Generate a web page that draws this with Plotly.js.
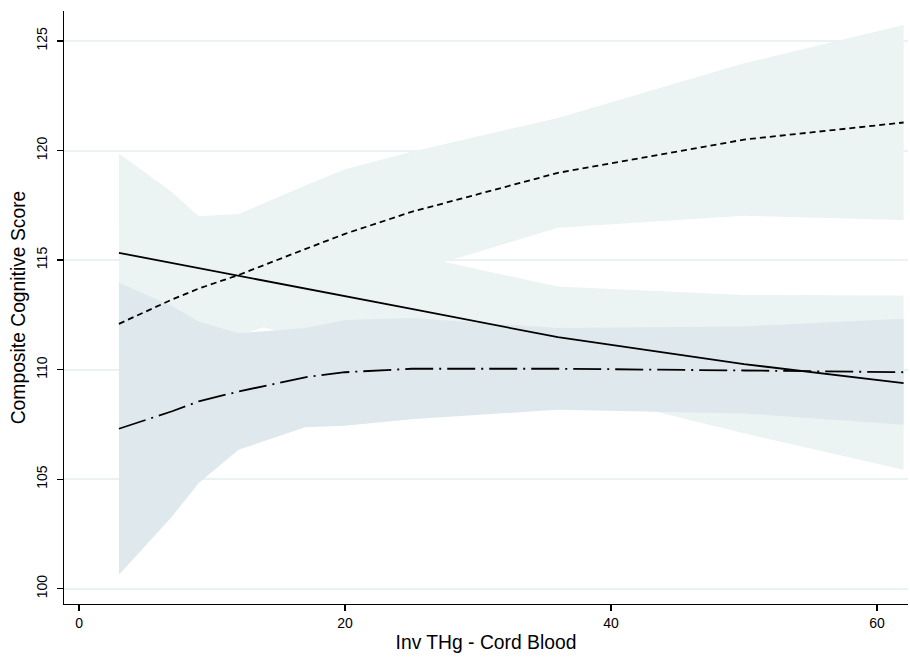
<!DOCTYPE html>
<html>
<head>
<meta charset="utf-8">
<script src="https://cdn.plot.ly/plotly-3.0.1.min.js"></script>
<style>html,body{margin:0;padding:0;background:#fff;}#chart{width:910px;height:657px;}</style>
</head>
<body>
<div id="chart"></div>
<script>
// Inv THg - Cord Blood values at which predictions are drawn
const xVals = [3, 7, 9, 12, 17, 20, 25, 36, 50, 62];

// Solid line with its confidence band
const solidFit = [115.33, 114.87, 114.63, 114.28, 113.70, 113.35, 112.77, 111.48, 110.25, 109.38];
const solidLo  = [110.80, 111.60, 112.26, 112.26, 111.40, 110.85, 110.30, 109.17, 107.09, 105.43];
const solidHi  = [119.86, 118.10, 117.00, 116.30, 116.00, 115.85, 115.24, 113.79, 113.41, 113.38];

// Short-dash line with its confidence band
const dashFit = [112.09, 113.20, 113.70, 114.32, 115.50, 116.20, 117.20, 118.98, 120.50, 121.28];
const dashLo  = [107.58, 109.50, 110.40, 111.54, 112.60, 113.25, 114.45, 116.48, 117.02, 116.83];
const dashHi  = [116.60, 116.90, 117.00, 117.10, 118.40, 119.15, 119.95, 121.48, 123.98, 125.73];

// Dash-dot line with its confidence band
const dashDotFit = [107.30, 108.10, 108.55, 109.00, 109.65, 109.88, 110.04, 110.04, 109.96, 109.88];
const dashDotLo  = [100.64, 103.30, 104.82, 106.34, 107.37, 107.44, 107.73, 108.17, 108.00, 107.48];
const dashDotHi  = [113.96, 112.90, 112.20, 111.66, 111.90, 112.27, 112.35, 111.90, 111.97, 112.32];

const xTicks = [0, 20, 40, 60];
const yTicks = [100, 105, 110, 115, 120, 125];

const lightFill = '#ecf3f3';
const darkFill = '#dfe8ec';

function band(lo, hi, color) {
  return [
    {x: xVals, y: lo, type: 'scatter', mode: 'lines', line: {width: 0, color: color}, hoverinfo: 'skip', showlegend: false},
    {x: xVals, y: hi, type: 'scatter', mode: 'lines', line: {width: 0, color: color}, fill: 'tonexty', fillcolor: color, hoverinfo: 'skip', showlegend: false}
  ];
}

const traces = [
  ...band(solidLo, solidHi, lightFill),
  ...band(dashLo, dashHi, lightFill),
  ...band(dashDotLo, dashDotHi, darkFill),
  {x: xVals, y: solidFit, type: 'scatter', mode: 'lines', line: {color: '#000', width: 1.8, shape: 'linear'}, showlegend: false},
  {x: xVals, y: dashFit, type: 'scatter', mode: 'lines', line: {color: '#000', width: 1.8, dash: '6px,4px'}, showlegend: false},
  {x: xVals, y: dashDotFit, type: 'scatter', mode: 'lines', line: {color: '#000', width: 1.8, dash: '28px,6px,2px,6px'}, showlegend: false}
];

const layout = {
  width: 910,
  height: 657,
  margin: {l: 64, r: 2, t: 11, b: 53},
  paper_bgcolor: '#fff',
  plot_bgcolor: '#fff',
  font: {family: 'Liberation Sans, Arial, sans-serif', color: '#000'},
  showlegend: false,
  xaxis: {
    range: [-1.13, 62.33],
    tickvals: xTicks,
    ticktext: xTicks.map(String),
    ticks: 'outside',
    ticklen: 6,
    tickwidth: 1.2,
    tickcolor: '#000',
    showline: true,
    linecolor: '#000',
    linewidth: 1.3,
    showgrid: false,
    zeroline: false,
    tickfont: {size: 14, color: '#000'},
    title: {text: 'Inv THg - Cord Blood', font: {size: 19.3, color: '#000'}, standoff: 5}
  },
  yaxis: {
    range: [99.30, 126.37],
    tickvals: yTicks,
    ticktext: yTicks.map(String),
    tickangle: -90,
    ticks: 'outside',
    ticklen: 6,
    tickwidth: 1.2,
    tickcolor: '#000',
    ticklabelstandoff: 4,
    showline: true,
    linecolor: '#000',
    linewidth: 1.3,
    showgrid: true,
    gridcolor: '#eaf2f3',
    gridwidth: 2,
    zeroline: false,
    tickfont: {size: 14, color: '#000'},
    title: {text: 'Composite Cognitive Score', font: {size: 19.3, color: '#000'}, standoff: 3}
  }
};

Plotly.newPlot('chart', traces, layout, {displayModeBar: false, staticPlot: true});
</script>
</body>
</html>
